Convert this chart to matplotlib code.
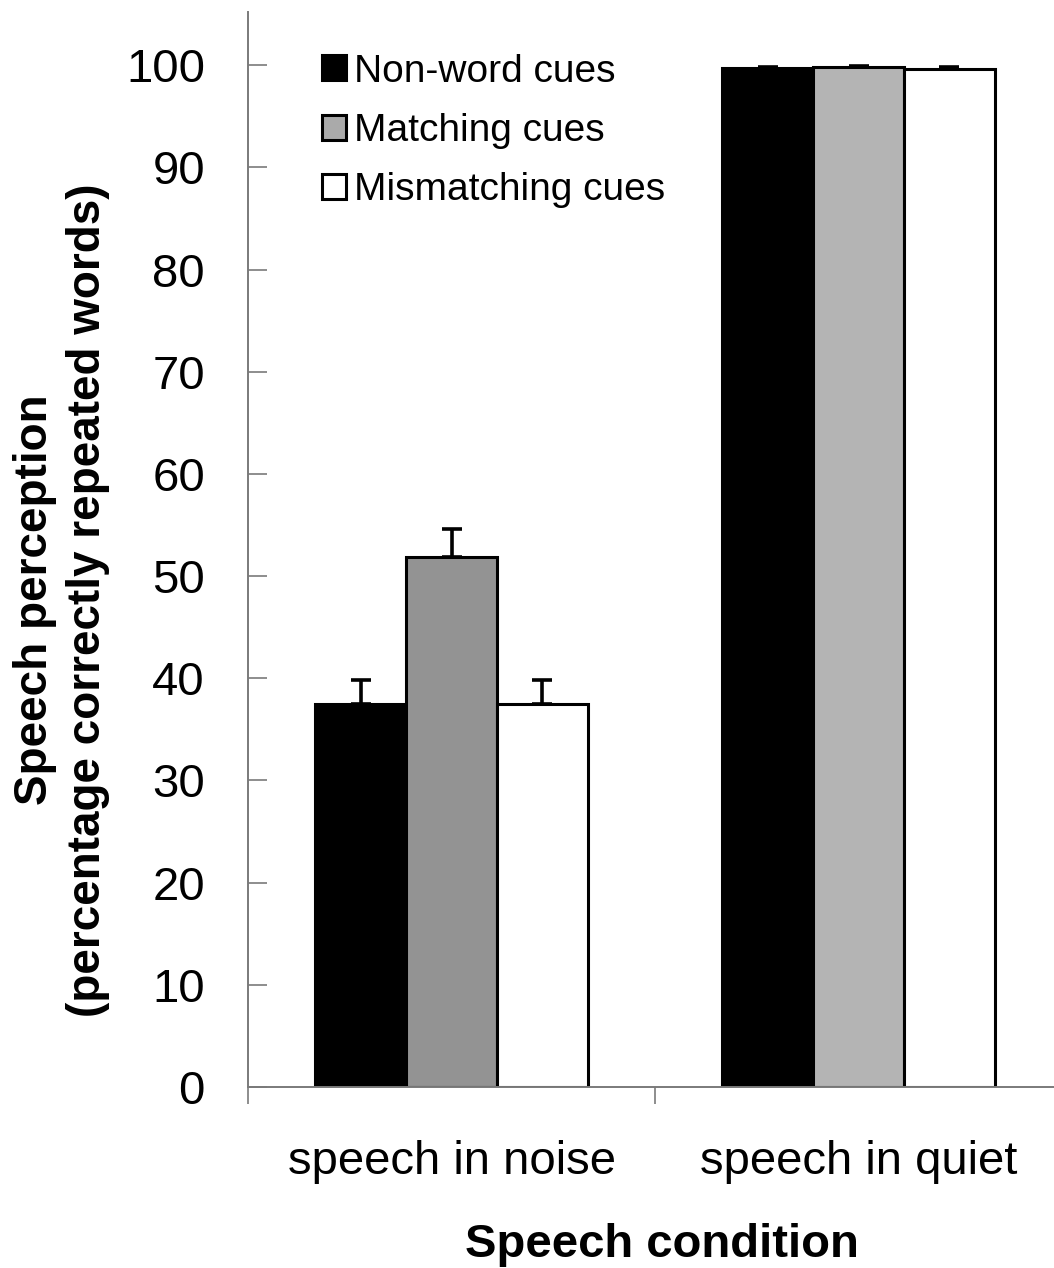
import matplotlib
matplotlib.use("Agg")
import matplotlib.pyplot as plt
import numpy as np
from matplotlib.patches import Patch

plt.rcParams['font.family'] = ['Liberation Sans', 'DejaVu Sans']

conditions = ["speech in noise", "speech in quiet"]
series = ["Non-word cues", "Matching cues", "Mismatching cues"]
values = {
    "Non-word cues": [37.5, 99.7],
    "Matching cues": [51.9, 99.8],
    "Mismatching cues": [37.5, 99.6],
}
errors = {
    "Non-word cues": [2.3, 0.15],
    "Matching cues": [2.7, 0.15],
    "Mismatching cues": [2.3, 0.2],
}
yticks = [0, 10, 20, 30, 40, 50, 60, 70, 80, 90, 100]

# fill colours per series, per condition
fills = {
    "Non-word cues": ["#000000", "#000000"],
    "Matching cues": ["#939393", "#b4b4b4"],
    "Mismatching cues": ["#ffffff", "#ffffff"],
}
legend_fill = {"Non-word cues": "#000000", "Matching cues": "#aaaaaa",
               "Mismatching cues": "#ffffff"}

fig = plt.figure(figsize=(10.54, 12.68), dpi=100)
ax = fig.add_axes([248 / 1054, 1 - 1087 / 1268, 814 / 1054, (1087 - 12) / 1268])

x = np.arange(len(conditions))
width = 0.223
offsets = [-width, 0, width]
for s, off in zip(series, offsets):
    ax.bar(x + off, values[s], width, color=fills[s], edgecolor="black",
           linewidth=2.2, zorder=2)
    err = errors[s]
    ax.errorbar(x + off, values[s], yerr=[np.zeros(len(err)), err], fmt="none",
                ecolor="black", elinewidth=2.6, capsize=7.5, capthick=2.6, zorder=3)

ax.set_xlim(-0.5, 1.5)
ax.set_ylim(0, 105.2)
ax.set_yticks(yticks)
ax.set_yticklabels([str(t) for t in yticks], fontsize=34)
ax.set_xticks([-0.5, 0.5, 1.5])
ax.set_xticklabels(["", "", ""])
ax.tick_params(axis="x", length=12, width=1.2, color="#7a7a7a", direction="out")
ax.tick_params(axis="y", length=14, width=1.2, color="#7a7a7a", direction="in", pad=31)
for t, lab in zip(x, conditions):
    ax.text(t, -7.3, lab, ha="center", va="center", fontsize=34)

for side in ["top", "right"]:
    ax.spines[side].set_visible(False)
for side in ["left", "bottom"]:
    ax.spines[side].set_color("#7a7a7a")
    ax.spines[side].set_linewidth(1.4)

fig.text(662 / 1054, 1 - 1245 / 1268, "Speech condition", ha="center", va="center",
         fontsize=34, fontweight="bold")
fig.text(35 / 1054, 1 - 600 / 1268, "Speech perception", ha="center", va="center",
         rotation=90, fontsize=33, fontweight="bold")
fig.text(88 / 1054, 1 - 600 / 1268, "(percentage correctly repeated words)",
         ha="center", va="center", rotation=90, fontsize=33, fontweight="bold")

handles = [Patch(facecolor=legend_fill[s], edgecolor="black", linewidth=2.2) for s in series]
leg = ax.legend(handles, series, loc="upper left",
                bbox_to_anchor=((306 - 248) / 814, (1087 - 38) / 1075),
                frameon=False, fontsize=28, handlelength=0.62, handleheight=0.62,
                handletextpad=0.22, labelspacing=0.6, borderaxespad=0)

fig.savefig("out.png", dpi=100)
